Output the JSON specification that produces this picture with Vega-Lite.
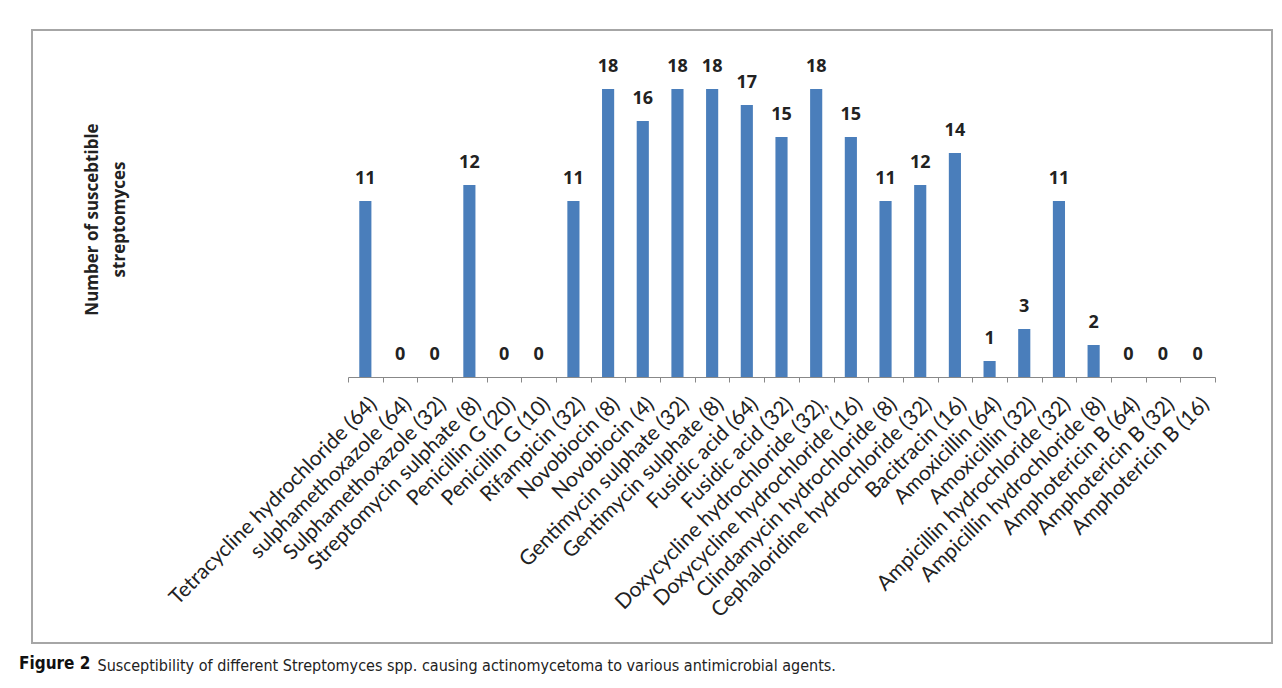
{
  "$schema": "https://vega.github.io/schema/vega-lite/v6.json",
  "width": 1240,
  "height": 613,
  "autosize": {"type": "none"},
  "padding": {"left": 32, "top": 30, "right": 10, "bottom": 45},
  "background": "white",
  "title": {
    "text": "Figure 2",
    "orient": "bottom",
    "anchor": "start",
    "frame": "group",
    "offset": -17,
    "dx": -13,
    "font": "Liberation Sans Narrow, DejaVu Sans Condensed, Open Sans",
    "fontSize": 17,
    "fontWeight": "bold",
    "color": "#111111"
  },
  "data": {
    "values": [
      {"drug": "Tetracycline hydrochloride (64)", "count": 11},
      {"drug": "sulphamethoxazole (64)", "count": 0},
      {"drug": "Sulphamethoxazole (32)", "count": 0},
      {"drug": "Streptomycin sulphate (8)", "count": 12},
      {"drug": "Penicillin G (20)", "count": 0},
      {"drug": "Penicillin G (10)", "count": 0},
      {"drug": "Rifampicin (32)", "count": 11},
      {"drug": "Novobiocin (8)", "count": 18},
      {"drug": "Novobiocin (4)", "count": 16},
      {"drug": "Gentimycin sulphate (32)", "count": 18},
      {"drug": "Gentimycin sulphate (8)", "count": 18},
      {"drug": "Fusidic acid (64)", "count": 17},
      {"drug": "Fusidic acid (32)", "count": 15},
      {"drug": "Doxycycline hydrochloride (32),", "count": 18},
      {"drug": "Doxycycline hydrochloride (16)", "count": 15},
      {"drug": "Clindamycin hydrochloride (8)", "count": 11},
      {"drug": "Cephaloridine hydrochloride (32)", "count": 12},
      {"drug": "Bacitracin (16)", "count": 14},
      {"drug": "Amoxicillin (64)", "count": 1},
      {"drug": "Amoxicillin (32)", "count": 3},
      {"drug": "Ampicillin hydrochloride (32)", "count": 11},
      {"drug": "Ampicillin hydrochloride (8)", "count": 2},
      {"drug": "Amphotericin B (64)", "count": 0},
      {"drug": "Amphotericin B (32)", "count": 0},
      {"drug": "Amphotericin B (16)", "count": 0}
    ]
  },
  "config": {
    "view": {"stroke": "#a6a6a6", "strokeWidth": 2}
  },
  "encoding": {
    "x": {
      "field": "drug",
      "type": "nominal",
      "sort": null,
      "scale": {"range": [316, 1183], "paddingInner": 0, "paddingOuter": 0},
      "axis": {
        "title": "Susceptibility of different Streptomyces spp. causing actinomycetoma to various antimicrobial agents.",
        "titleX": 65,
        "titleY": 293,
        "titleAlign": "left",
        "titleAnchor": null,
        "titleBaseline": "alphabetic",
        "titleAngle": 0,
        "titleFont": "Liberation Sans Narrow, DejaVu Sans Condensed, Open Sans",
        "titleFontSize": 16,
        "titleFontWeight": "normal",
        "titleColor": "#222222",
        "offset": -266,
        "domainColor": "#888888",
        "tickColor": "#888888",
        "tickSize": 5,
        "tickBand": "extent",
        "labelAngle": -45,
        "labelFont": "Lato",
        "labelFontSize": 21,
        "labelColor": "#222222",
        "labelPadding": 11,
        "labelLimit": 0,
        "labelOverlap": false,
        "labelAlign": "right",
        "labelBaseline": "top"
      }
    },
    "y": {
      "field": "count",
      "type": "quantitative",
      "scale": {"domain": [-16.625, 21.6875], "nice": false, "zero": false},
      "axis": {
        "title": ["Number of suscebtible", "streptomyces"],
        "domain": false,
        "ticks": false,
        "labels": false,
        "grid": false,
        "titleFont": "Open Sans",
        "titleFontSize": 17,
        "titleFontWeight": "bold",
        "titleColor": "#222222",
        "titleAngle": -90,
        "titleX": 60,
        "titleY": 189,
        "titleAlign": "center",
        "titleBaseline": "middle",
        "titleLineHeight": 27
      }
    }
  },
  "layer": [
    {
      "mark": {"type": "bar", "color": "#4a7ebb", "width": {"band": 0.35}},
      "encoding": {"y2": {"datum": 0}}
    },
    {
      "mark": {"type": "text", "font": "Open Sans", "fontSize": 18, "fontWeight": "bold", "color": "#222222", "baseline": "alphabetic", "dy": -17},
      "encoding": {"text": {"field": "count", "type": "quantitative"}}
    }
  ]
}
